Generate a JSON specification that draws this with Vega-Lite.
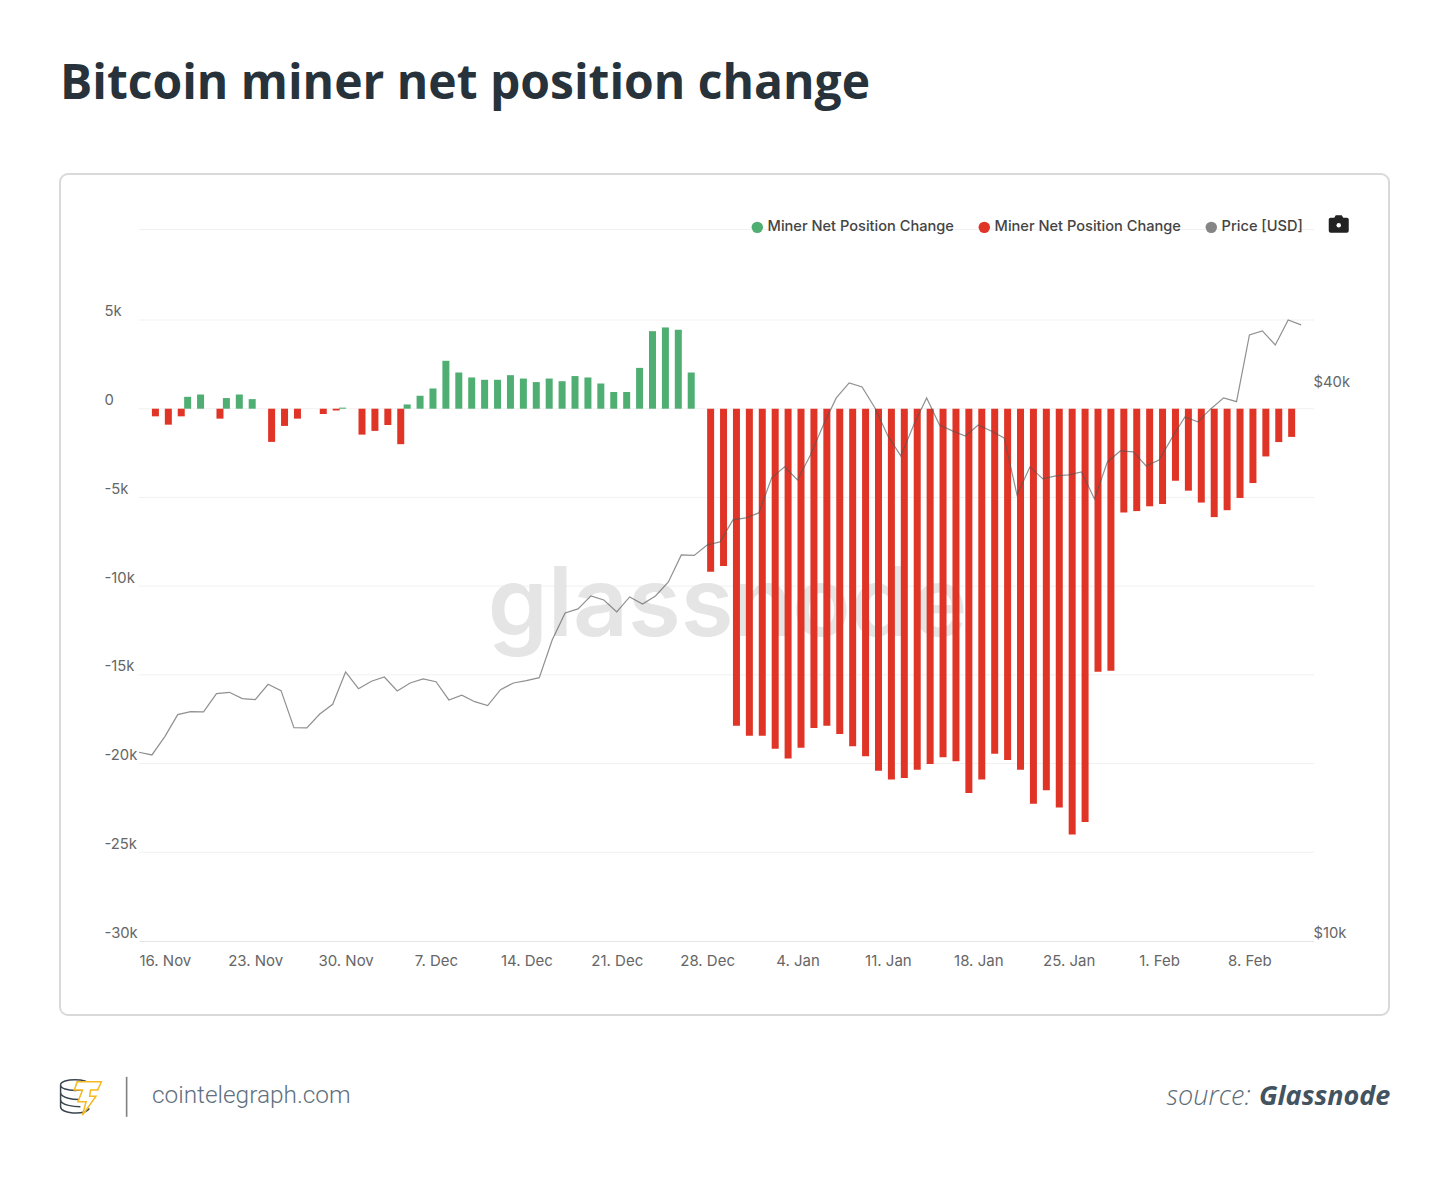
{"$schema":"https://vega.github.io/schema/vega-lite/v6.json","width":1329,"height":841,"autosize":{"type":"none"},"padding":{"left":60,"top":174,"right":61,"bottom":162},"background":"white","view":{"stroke":"#d9d9d9","strokeWidth":2,"cornerRadius":8,"fill":"white"},"title":{"text":"Bitcoin miner net position change","anchor":"start","frame":"group","font":"Open Sans","fontSize":48,"fontWeight":700,"color":"#27323a","offset":65},
"datasets":{
"grid":[{"d":"2020-11-14","e":"2021-02-13","v":10100},{"d":"2020-11-14","e":"2021-02-13","v":5000},{"d":"2020-11-14","e":"2021-02-13","v":0},{"d":"2020-11-14","e":"2021-02-13","v":-5000},{"d":"2020-11-14","e":"2021-02-13","v":-10000},{"d":"2020-11-14","e":"2021-02-13","v":-15000},{"d":"2020-11-14","e":"2021-02-13","v":-20000},{"d":"2020-11-14","e":"2021-02-13","v":-25000}],
"up":[{"d":"2020-11-18","v":670},{"d":"2020-11-19","v":800},{"d":"2020-11-21","v":600},{"d":"2020-11-22","v":800},{"d":"2020-11-23","v":540},{"d":"2020-11-30","v":60},{"d":"2020-12-05","v":240},{"d":"2020-12-06","v":730},{"d":"2020-12-07","v":1140},{"d":"2020-12-08","v":2700},{"d":"2020-12-09","v":2040},{"d":"2020-12-10","v":1760},{"d":"2020-12-11","v":1630},{"d":"2020-12-12","v":1630},{"d":"2020-12-13","v":1890},{"d":"2020-12-14","v":1700},{"d":"2020-12-15","v":1500},{"d":"2020-12-16","v":1700},{"d":"2020-12-17","v":1550},{"d":"2020-12-18","v":1840},{"d":"2020-12-19","v":1760},{"d":"2020-12-20","v":1420},{"d":"2020-12-21","v":940},{"d":"2020-12-22","v":940},{"d":"2020-12-23","v":2300},{"d":"2020-12-24","v":4370},{"d":"2020-12-25","v":4580},{"d":"2020-12-26","v":4450},{"d":"2020-12-27","v":2040}],
"down":[{"d":"2020-11-15","v":-430},{"d":"2020-11-16","v":-900},{"d":"2020-11-17","v":-430},{"d":"2020-11-20","v":-560},{"d":"2020-11-24","v":-1870},{"d":"2020-11-25","v":-970},{"d":"2020-11-26","v":-560},{"d":"2020-11-28","v":-300},{"d":"2020-11-29","v":-100},{"d":"2020-12-01","v":-1460},{"d":"2020-12-02","v":-1250},{"d":"2020-12-03","v":-920},{"d":"2020-12-04","v":-2000},{"d":"2020-12-28","v":-9190},{"d":"2020-12-29","v":-8860},{"d":"2020-12-30","v":-17870},{"d":"2020-12-31","v":-18430},{"d":"2021-01-01","v":-18430},{"d":"2021-01-02","v":-19160},{"d":"2021-01-03","v":-19720},{"d":"2021-01-04","v":-19110},{"d":"2021-01-05","v":-18000},{"d":"2021-01-06","v":-17870},{"d":"2021-01-07","v":-18340},{"d":"2021-01-08","v":-19030},{"d":"2021-01-09","v":-19590},{"d":"2021-01-10","v":-20410},{"d":"2021-01-11","v":-20900},{"d":"2021-01-12","v":-20820},{"d":"2021-01-13","v":-20350},{"d":"2021-01-14","v":-20020},{"d":"2021-01-15","v":-19650},{"d":"2021-01-16","v":-19870},{"d":"2021-01-17","v":-21660},{"d":"2021-01-18","v":-20900},{"d":"2021-01-19","v":-19440},{"d":"2021-01-20","v":-19800},{"d":"2021-01-21","v":-20350},{"d":"2021-01-22","v":-22260},{"d":"2021-01-23","v":-21500},{"d":"2021-01-24","v":-22470},{"d":"2021-01-25","v":-24000},{"d":"2021-01-26","v":-23290},{"d":"2021-01-27","v":-14820},{"d":"2021-01-28","v":-14770},{"d":"2021-01-29","v":-5850},{"d":"2021-01-30","v":-5770},{"d":"2021-01-31","v":-5500},{"d":"2021-02-01","v":-5370},{"d":"2021-02-02","v":-4060},{"d":"2021-02-03","v":-4620},{"d":"2021-02-04","v":-5290},{"d":"2021-02-05","v":-6110},{"d":"2021-02-06","v":-5720},{"d":"2021-02-07","v":-5030},{"d":"2021-02-08","v":-4190},{"d":"2021-02-09","v":-2690},{"d":"2021-02-10","v":-1880},{"d":"2021-02-11","v":-1590}],
"price":[{"d":"2020-11-14","p":16085},{"d":"2020-11-15","p":15976},{"d":"2020-11-16","p":16729},{"d":"2020-11-17","p":17683},{"d":"2020-11-18","p":17816},{"d":"2020-11-19","p":17803},{"d":"2020-11-20","p":18642},{"d":"2020-11-21","p":18707},{"d":"2020-11-22","p":18410},{"d":"2020-11-23","p":18364},{"d":"2020-11-24","p":19090},{"d":"2020-11-25","p":18785},{"d":"2020-11-26","p":17113},{"d":"2020-11-27","p":17100},{"d":"2020-11-28","p":17713},{"d":"2020-11-29","p":18152},{"d":"2020-11-30","p":19690},{"d":"2020-12-01","p":18879},{"d":"2020-12-02","p":19234},{"d":"2020-12-03","p":19443},{"d":"2020-12-04","p":18771},{"d":"2020-12-05","p":19152},{"d":"2020-12-06","p":19345},{"d":"2020-12-07","p":19214},{"d":"2020-12-08","p":18349},{"d":"2020-12-09","p":18568},{"d":"2020-12-10","p":18270},{"d":"2020-12-11","p":18087},{"d":"2020-12-12","p":18832},{"d":"2020-12-13","p":19152},{"d":"2020-12-14","p":19263},{"d":"2020-12-15","p":19410},{"d":"2020-12-16","p":21342},{"d":"2020-12-17","p":22844},{"d":"2020-12-18","p":23076},{"d":"2020-12-19","p":23845},{"d":"2020-12-20","p":23605},{"d":"2020-12-21","p":22903},{"d":"2020-12-22","p":23784},{"d":"2020-12-23","p":23369},{"d":"2020-12-24","p":23845},{"d":"2020-12-25","p":24700},{"d":"2020-12-26","p":26438},{"d":"2020-12-27","p":26405},{"d":"2020-12-28","p":27112},{"d":"2020-12-29","p":27319},{"d":"2020-12-30","p":28875},{"d":"2020-12-31","p":29020},{"d":"2021-01-01","p":29388},{"d":"2021-01-02","p":32098},{"d":"2021-01-03","p":32999},{"d":"2021-01-04","p":31934},{"d":"2021-01-05","p":34011},{"d":"2021-01-06","p":36678},{"d":"2021-01-07","p":39261},{"d":"2021-01-08","p":40771},{"d":"2021-01-09","p":40365},{"d":"2021-01-10","p":38285},{"d":"2021-01-11","p":35676},{"d":"2021-01-12","p":33926},{"d":"2021-01-13","p":36678},{"d":"2021-01-14","p":39261},{"d":"2021-01-15","p":36678},{"d":"2021-01-16","p":36130},{"d":"2021-01-17","p":35676},{"d":"2021-01-18","p":36678},{"d":"2021-01-19","p":36130},{"d":"2021-01-20","p":35498},{"d":"2021-01-21","p":30750},{"d":"2021-01-22","p":32999},{"d":"2021-01-23","p":32015},{"d":"2021-01-24","p":32258},{"d":"2021-01-25","p":32339},{"d":"2021-01-26","p":32586},{"d":"2021-01-27","p":30443},{"d":"2021-01-28","p":33416},{"d":"2021-01-29","p":34355},{"d":"2021-01-30","p":34266},{"d":"2021-01-31","p":33082},{"d":"2021-02-01","p":33584},{"d":"2021-02-02","p":35498},{"d":"2021-02-03","p":37427},{"d":"2021-02-04","p":36959},{"d":"2021-02-05","p":38186},{"d":"2021-02-06","p":39261},{"d":"2021-02-07","p":38895},{"d":"2021-02-08","p":46012},{"d":"2021-02-09","p":46479},{"d":"2021-02-10","p":44868},{"d":"2021-02-11","p":47784},{"d":"2021-02-12","p":47186}]
},
"encoding":{"x":{"field":"d","type":"temporal","title":null,"scale":{"type":"utc","padding":0,"domain":[{"year":2020,"month":11,"date":14,"utc":true},{"year":2021,"month":2,"date":13,"utc":true}],"range":[79,1254]},"axis":{"orient":"bottom","offset":-74,"grid":false,"ticks":false,"labelPadding":12,"labelFont":"Inter","labelFontSize":15,"labelColor":"#666666","labelOverlap":false,"labelFlush":false,"domainColor":"#e4e4e4","domainWidth":1,"labelExpr":"utcFormat(datum.value, '%-d. %b')","values":[{"year":2020,"month":11,"date":16,"utc":true},{"year":2020,"month":11,"date":23,"utc":true},{"year":2020,"month":11,"date":30,"utc":true},{"year":2020,"month":12,"date":7,"utc":true},{"year":2020,"month":12,"date":14,"utc":true},{"year":2020,"month":12,"date":21,"utc":true},{"year":2020,"month":12,"date":28,"utc":true},{"year":2021,"month":1,"date":4,"utc":true},{"year":2021,"month":1,"date":11,"utc":true},{"year":2021,"month":1,"date":18,"utc":true},{"year":2021,"month":1,"date":25,"utc":true},{"year":2021,"month":2,"date":1,"utc":true},{"year":2021,"month":2,"date":8,"utc":true}]}}},
"layer":[
{"encoding":{"y":{"field":"v","type":"quantitative","title":null,"stack":null,"scale":{"domain":[-30000,10100],"range":[767,55.5],"nice":false,"zero":false},"axis":{"orient":"left","offset":-44,"grid":false,"ticks":false,"domain":false,"labelAlign":"left","labelPadding":0,"labelOffset":-8,"labelFont":"Inter","labelFontSize":14.8,"labelColor":"#666666","values":[-30000,-25000,-20000,-15000,-10000,-5000,0,5000],"labelExpr":"datum.value == 0 ? '0' : (datum.value / 1000) + 'k'"}}},
"layer":[
{"data":{"name":"grid"},"mark":{"type":"rule","stroke":"#f1f1f1","strokeWidth":1},"encoding":{"x2":{"field":"e"}}},
{"data":{"values":[{"d":"2020-12-29T14:00:00Z","v":-12796,"t":"glassnode"}]},"mark":{"type":"text","font":"Inter","fontWeight":600,"fontSize":96,"align":"center","baseline":"alphabetic","fill":"#e5e5e5"},"encoding":{"text":{"field":"t"}}},
{"data":{"name":"up"},"mark":{"type":"bar","size":7,"xOffset":-3},"encoding":{"color":{"datum":"Miner Net Position Change (up)","type":"nominal","scale":{"domain":["Miner Net Position Change (up)","Miner Net Position Change (down)","Price [USD]"],"range":["#4fae72","#e03426","#858585"]},"legend":{"title":null,"orient":"none","legendX":690,"legendY":46,"direction":"horizontal","symbolType":"circle","symbolSize":130,"symbolStrokeWidth":0,"columnPadding":23,"labelOffset":3,"labelFont":"Inter","labelFontSize":14.6,"labelFontWeight":500,"labelColor":"#444444","labelLimit":300,"labelExpr":"replace(replace(datum.label,' (up)',''),' (down)','')"}}}},
{"data":{"name":"down"},"mark":{"type":"bar","size":7,"xOffset":3.5},"encoding":{"color":{"datum":"Miner Net Position Change (down)","type":"nominal"}}},
{"data":{"values":[{"d":"2020-11-15","v":-38726,"t":"cointelegraph.com"}]},"mark":{"type":"text","font":"Roboto","fontWeight":300,"fontSize":24.4,"align":"left","baseline":"middle","fill":"#5f7080"},"encoding":{"text":{"field":"t"}}},
{"data":{"values":[{"d":"2021-02-08T02:00:00Z","v":-38780,"t":"source:"}]},"mark":{"type":"text","font":"Open Sans","fontStyle":"italic","fontWeight":300,"fontSize":27,"align":"right","baseline":"middle","fill":"#5c6b77"},"encoding":{"text":{"field":"t"}}},
{"data":{"values":[{"d":"2021-02-18T22:00:00Z","v":-38780,"t":"Glassnode"}]},"mark":{"type":"text","font":"Open Sans","fontStyle":"italic","fontWeight":700,"fontSize":27,"align":"right","baseline":"middle","fill":"#43535f"},"encoding":{"text":{"field":"t"}}},
{"data":{"values":[{"d":"2020-11-13T01:00:00Z","v":-37655,"v2":-39910}]},"mark":{"type":"rule","stroke":"#808080","strokeWidth":1.6},"encoding":{"y2":{"field":"v2"}}},
{"data":{"values":[{"d":"2020-11-09T01:00:00Z","v":-38726}]},"mark":{"type":"point","shape":"M-.8-.6C-.8-1 .8-1 .8-.6C.8-.2-.8-.2-.8-.6M-.8-.6V.6C-.8 1 .5 1.1 .8 .7M-.8-.2C-.8 .15 0 .2 .2 .2M-.8 .2C-.8 .55 0 .6 .3 .6","size":1296,"filled":false,"stroke":"#3c4650","strokeWidth":1.5,"opacity":1}},
{"data":{"values":[{"d":"2020-11-10T01:00:00Z","v":-38850}]},"mark":{"type":"point","shape":"M-.6-.9H.75L.55-.45H.15L.1-.1H.45L-.3.95L-.1.2H-.55L-.3-.45H-.75Z","size":1296,"filled":true,"fill":"white","stroke":"#f5b921","strokeWidth":1.5,"opacity":1}},
{"data":{"values":[{"d":"2021-02-14T22:00:00Z","v":10372}]},"mark":{"type":"point","shape":"M-1-.55Q-1-.7-.8-.7H-.45L-.3-.95H.3L.45-.7H.8Q1-.7 1-.55V.6Q1 .8.8.8H-.8Q-1 .8-1 .6Z","size":400,"filled":true,"fill":"#222222","stroke":null,"opacity":1}},
{"data":{"values":[{"d":"2021-02-14T22:00:00Z","v":10340}]},"mark":{"type":"point","shape":"circle","size":20,"filled":true,"fill":"white","stroke":null,"opacity":1}}
]},
{"data":{"name":"price"},"mark":{"type":"line","stroke":"#555555","strokeWidth":1.2,"opacity":0.65,"interpolate":"linear"},"encoding":{"y":{"field":"p","type":"quantitative","title":null,"scale":{"type":"log","domain":[10000,60000],"range":[767,55.5],"nice":false},"axis":{"orient":"right","offset":-76,"grid":false,"ticks":false,"domain":false,"labelAlign":"left","labelPadding":0,"labelOffset":-8,"labelFont":"Inter","labelFontSize":14.8,"labelColor":"#666666","values":[10000,40000],"labelExpr":"'$' + (datum.value / 1000) + 'k'"}}}}
],
"resolve":{"scale":{"y":"independent"},"axis":{"y":"independent"}}
}
